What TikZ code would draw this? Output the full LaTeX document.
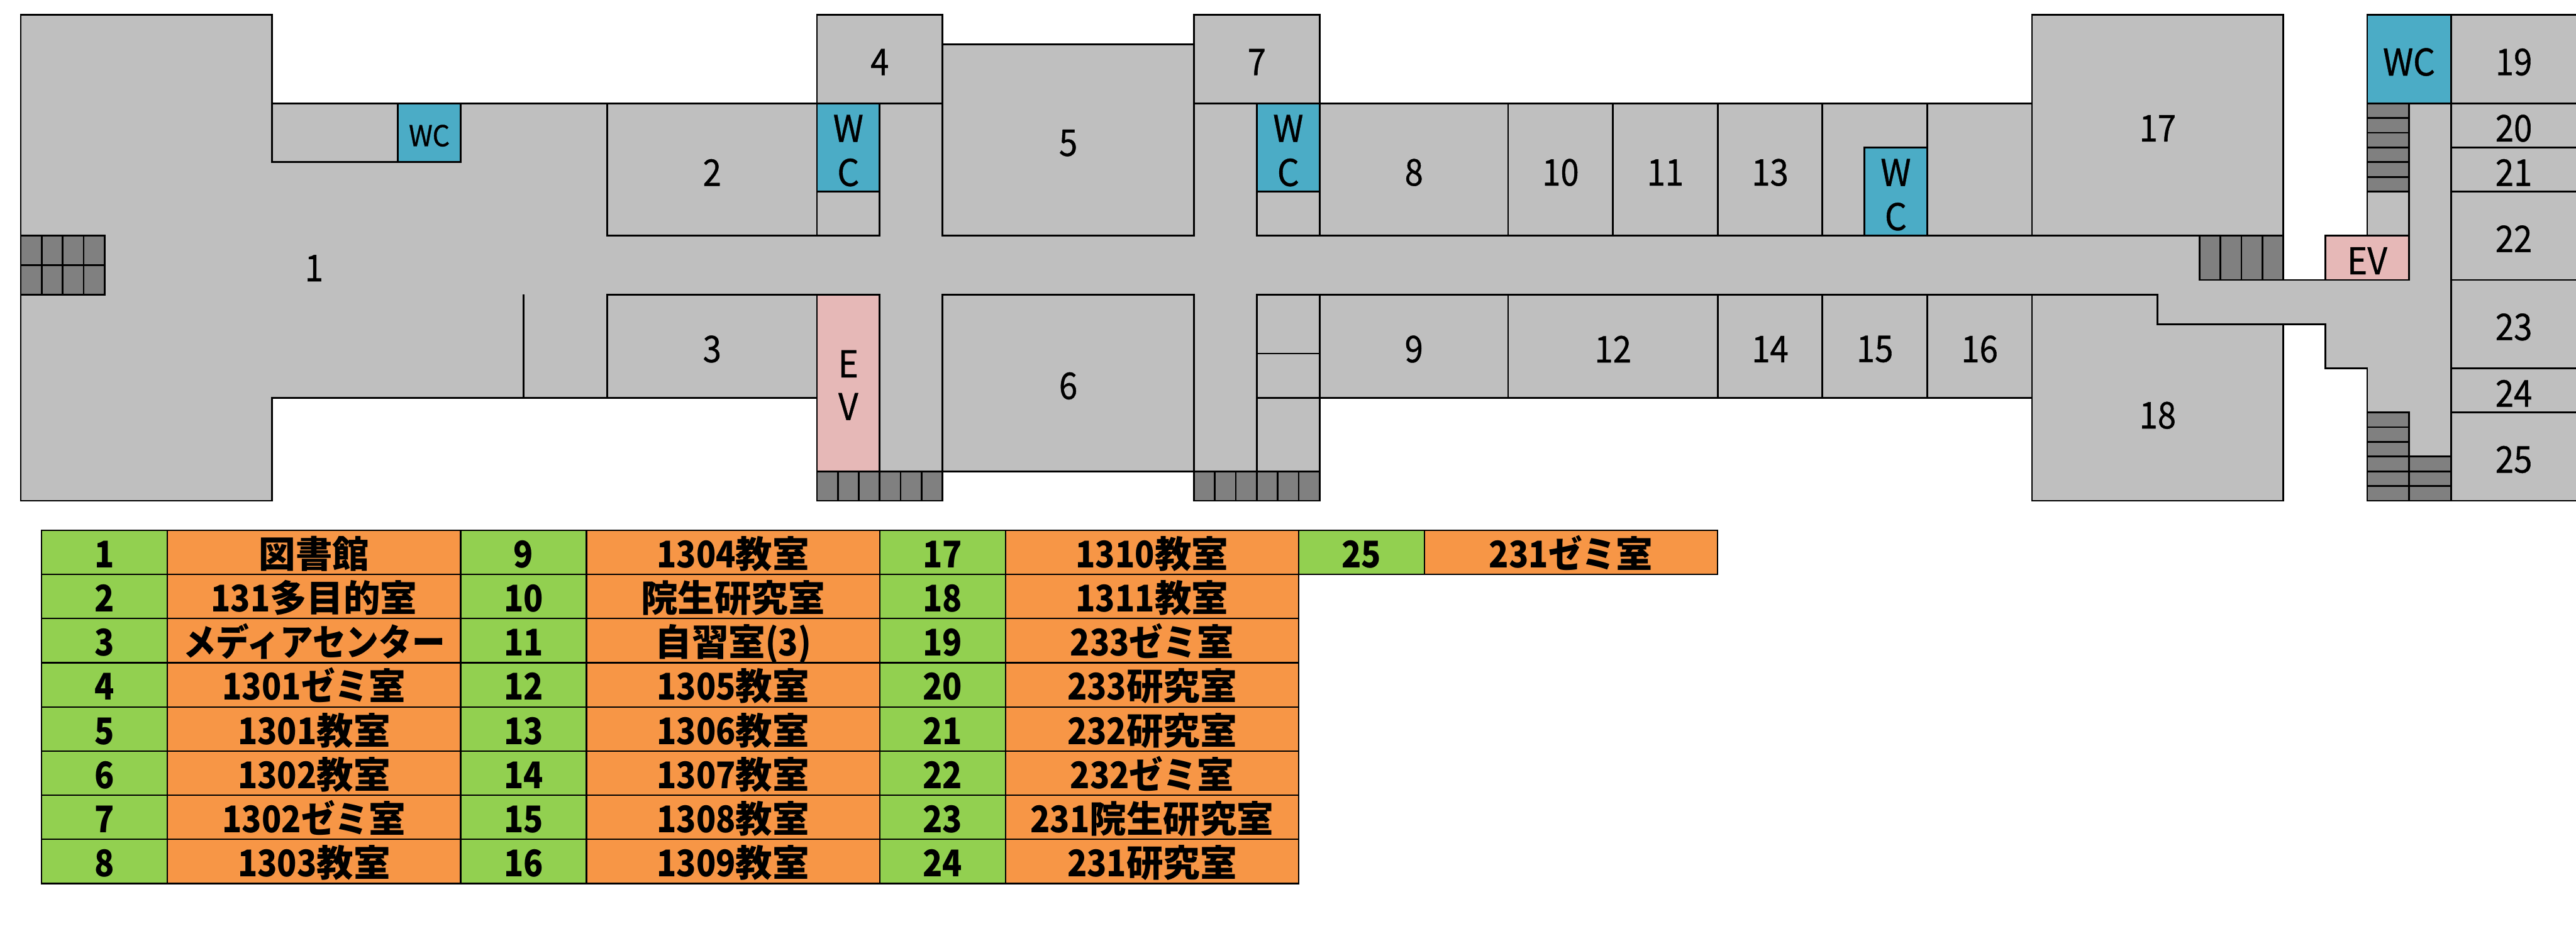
\documentclass[tikz,border=0pt]{standalone}
\usepackage{fontspec}
\usepackage{xcolor}
\usepackage{tikz}
\newfontfamily\jpfont{Noto Sans CJK JP}
\newfontfamily\digfont[FakeStretch=0.88]{Noto Sans CJK JP}
\newfontfamily\lblfont[FakeStretch=0.9,FakeBold=0.7]{Noto Sans CJK JP}
\newfontfamily\letterfont[FakeStretch=0.94,FakeBold=0.7]{Noto Sans CJK JP}
\newcommand{\dg}[1]{{\digfont #1}}
\definecolor{roomgray}{HTML}{BFBFBF}
\definecolor{stairgray}{HTML}{808080}
\definecolor{wcblue}{HTML}{4BACC6}
\definecolor{evpink}{HTML}{E6B8B7}
\definecolor{numgreen}{HTML}{92D050}
\definecolor{nameorange}{HTML}{F79646}

\begin{document}
\begin{tikzpicture}[
    x=0.3702cm, y=-0.26006cm,
    room/.style={draw, line width=0.85pt, fill=roomgray},
    stair/.style={draw, line width=0.85pt, fill=stairgray},
    wc/.style={draw, line width=0.85pt, fill=wcblue},
    ev/.style={draw, line width=0.85pt, fill=evpink},
    partition/.style={draw, line width=0.65pt},
    lbl/.style={font=\lblfont\fontsize{18.5}{22}\selectfont, inner sep=0pt},
    letter/.style={font=\letterfont\fontsize{18.5}{22}\selectfont, inner sep=0pt},
    numcell/.style={draw, line width=0.7pt, fill=numgreen, minimum width=2.2212cm, minimum height=0.78018cm,
        inner sep=0pt, outer sep=0pt, text height=0.54cm, text depth=0cm,
        font=\digfont\bfseries\fontsize{18.5}{22}\selectfont},
    namecell/.style={draw, line width=0.7pt, fill=nameorange, minimum width=5.1828cm, minimum height=0.78018cm,
        inner sep=0pt, outer sep=0pt, text height=0.54cm, text depth=0cm,
        font=\jpfont\bfseries\fontsize{18.5}{22}\selectfont}
]

\useasboundingbox (-0.991,-1.015) rectangle (121.97,63.0);

%% ── Building outline (grid: 1 unit = one sheet cell) ─────────────────
\draw[room] (0,0) -- (12,0) -- (12,6) -- (38,6) -- (38,0) -- (44,0) -- (44,2) -- (56,2)
    -- (56,0) -- (62,0) -- (62,6) -- (96,6) -- (96,0) -- (108,0) -- (108,18) -- (110,18)
    -- (110,15) -- (112,15) -- (112,0) -- (122,0) -- (122,33) -- (112,33) -- (112,24)
    -- (110,24) -- (110,21) -- (108,21) -- (108,33) -- (96,33) -- (96,26) -- (62,26)
    -- (62,33) -- (56,33) -- (56,31) -- (44,31) -- (44,33) -- (38,33) -- (38,26)
    -- (12,26) -- (12,33) -- (0,33) -- cycle;

%% ── Library wing ─────────────────────────────────────────────────────
\draw[room] (12,6) rectangle (18,10);
\draw[wc] (18,6) rectangle (21,10);
\draw[partition] (24,19) -- (24,26);
\draw[stair] (0,15) rectangle (4,19) (1,15) -- (1,19) (2,15) -- (2,19) (3,15) -- (3,19) (0,17) -- (4,17);
\node[lbl] (room1) at (14,17.2) {1};
\node[letter, font=\letterfont\fontsize{14.5}{18}\selectfont] (wclib) at (19.5,8.2) {WC};

%% ── West block ───────────────────────────────────────────────────────
\draw[room] (28,6) rectangle (38,15);
\draw[room] (28,19) rectangle (38,26);
\draw[room] (38,0) rectangle (44,6);
\draw[room] (44,2) rectangle (56,15);
\draw[room] (44,19) rectangle (56,31);
\draw[room] (38,12) rectangle (41,15);
\draw[wc] (38,6) rectangle (41,12);
\draw[ev] (38,19) rectangle (41,31);
\draw[stair] (38,31) rectangle (44,33) (39,31) -- (39,33) (40,31) -- (40,33) (41,31) -- (41,33)
    (42,31) -- (42,33) (43,31) -- (43,33);
\node[lbl] (room2) at (33,10.7) {2};
\node[lbl] (room3) at (33,22.7) {3};
\node[lbl] (room4) at (41,3.2) {4};
\node[lbl] (room5) at (50,8.7) {5};
\node[lbl] (room6) at (50,25.2) {6};
\node[letter] (wcwestw) at (39.5,7.7) {W};
\node[letter] (wcwestc) at (39.5,10.7) {C};
\node[letter] (evweste) at (39.5,23.7) {E};
\node[letter] (evwestv) at (39.5,26.6) {V};

%% ── Middle block ─────────────────────────────────────────────────────
\draw[room] (56,0) rectangle (62,6);
\draw[room] (59,12) rectangle (62,15);
\draw[wc] (59,6) rectangle (62,12);
\draw[room] (59,19) rectangle (62,23);
\draw[room] (59,23) rectangle (62,26);
\draw[room] (59,26) rectangle (62,31);
\draw[stair] (56,31) rectangle (62,33) (57,31) -- (57,33) (58,31) -- (58,33) (59,31) -- (59,33)
    (60,31) -- (60,33) (61,31) -- (61,33);
\draw[room] (62,6) rectangle (71,15);
\draw[room] (71,6) rectangle (76,15);
\draw[room] (76,6) rectangle (81,15);
\draw[room] (81,6) rectangle (86,15);
\draw[room] (86,6) rectangle (91,15);
\draw[room] (91,6) rectangle (96,15);
\draw[wc] (88,9) rectangle (91,15);
\draw[room] (62,19) rectangle (71,26);
\draw[room] (71,19) rectangle (81,26);
\draw[room] (81,19) rectangle (86,26);
\draw[room] (86,19) rectangle (91,26);
\draw[room] (91,19) rectangle (96,26);
\node[lbl] (room7) at (59,3.2) {7};
\node[lbl] (room8) at (66.5,10.7) {8};
\node[lbl] (room9) at (66.5,22.7) {9};
\node[lbl] (room10) at (73.5,10.7) {10};
\node[lbl] (room11) at (78.5,10.7) {11};
\node[lbl] (room12) at (76,22.7) {12};
\node[lbl] (room13) at (83.5,10.7) {13};
\node[lbl] (room14) at (83.5,22.7) {14};
\node[lbl] (room15) at (88.5,22.7) {15};
\node[lbl] (room16) at (93.5,22.7) {16};
\node[letter] (wcmidw) at (60.5,7.7) {W};
\node[letter] (wcmidc) at (60.5,10.7) {C};
\node[letter] (wceastw) at (89.5,10.7) {W};
\node[letter] (wceastc) at (89.5,13.7) {C};

%% ── East block ───────────────────────────────────────────────────────
\draw[room] (96,0) rectangle (108,15);
\draw[room] (96,19) -- (102,19) -- (102,21) -- (108,21) -- (108,33) -- (96,33) -- cycle;
\draw[stair] (104,15) rectangle (108,18) (105,15) -- (105,18) (106,15) -- (106,18) (107,15) -- (107,18);
\node[lbl] (room17) at (102,7.7) {17};
\node[lbl] (room18) at (102,27.2) {18};

%% ── Annex ────────────────────────────────────────────────────────────
\draw[wc] (112,0) rectangle (116,6);
\draw[room] (116,0) rectangle (122,6);
\draw[room] (116,6) rectangle (122,9);
\draw[room] (116,9) rectangle (122,12);
\draw[room] (116,12) rectangle (122,18);
\draw[room] (116,18) rectangle (122,24);
\draw[room] (116,24) rectangle (122,27);
\draw[room] (116,27) rectangle (122,33);
\draw[room] (112,12) rectangle (114,15);
\draw[ev] (110,15) rectangle (114,18);
\draw[stair] (112,6) rectangle (114,12) (112,7) -- (114,7) (112,8) -- (114,8) (112,9) -- (114,9)
    (112,10) -- (114,10) (112,11) -- (114,11);
\draw[stair] (112,27) rectangle (114,33) (112,28) -- (114,28) (112,29) -- (114,29) (112,30) -- (114,30)
    (112,31) -- (114,31) (112,32) -- (114,32);
\draw[stair] (114,30) rectangle (116,33) (114,31) -- (116,31) (114,32) -- (116,32);
\node[letter] (wcannex) at (114,3.2) {WC};
\node[letter] (evannex) at (112,16.7) {EV};
\node[lbl] (room19) at (119,3.2) {19};
\node[lbl] (room20) at (119,7.7) {20};
\node[lbl] (room21) at (119,10.7) {21};
\node[lbl] (room22) at (119,15.2) {22};
\node[lbl] (room23) at (119,21.2) {23};
\node[lbl] (room24) at (119,25.7) {24};
\node[lbl] (room25) at (119,30.2) {25};

%% ── Key table: first column pair ─────────────────────────────────────
\node[numcell] (n1) at (4,36.5) {1};  \node[namecell] (t1) at (14,36.5) {図書館};
\node[numcell] (n2) at (4,39.5) {2};  \node[namecell] (t2) at (14,39.5) {\dg{131}多目的室};
\node[numcell] (n3) at (4,42.5) {3};  \node[namecell] (t3) at (14,42.5) {\scalebox{0.9}[1]{メディアセンター}};
\node[numcell] (n4) at (4,45.5) {4};  \node[namecell] (t4) at (14,45.5) {\dg{1301}\scalebox{0.92}[1]{ゼミ}室};
\node[numcell] (n5) at (4,48.5) {5};  \node[namecell] (t5) at (14,48.5) {\dg{1301}教室};
\node[numcell] (n6) at (4,51.5) {6};  \node[namecell] (t6) at (14,51.5) {\dg{1302}教室};
\node[numcell] (n7) at (4,54.5) {7};  \node[namecell] (t7) at (14,54.5) {\dg{1302}\scalebox{0.92}[1]{ゼミ}室};
\node[numcell] (n8) at (4,57.5) {8};  \node[namecell] (t8) at (14,57.5) {\dg{1303}教室};

%% ── Key table: second column pair ────────────────────────────────────
\node[numcell] (n9) at (24,36.5) {9};    \node[namecell] (t9) at (34,36.5) {\dg{1304}教室};
\node[numcell] (n10) at (24,39.5) {10};  \node[namecell] (t10) at (34,39.5) {院生研究室};
\node[numcell] (n11) at (24,42.5) {11};  \node[namecell] (t11) at (34,42.5) {自習室\dg{(3)}};
\node[numcell] (n12) at (24,45.5) {12};  \node[namecell] (t12) at (34,45.5) {\dg{1305}教室};
\node[numcell] (n13) at (24,48.5) {13};  \node[namecell] (t13) at (34,48.5) {\dg{1306}教室};
\node[numcell] (n14) at (24,51.5) {14};  \node[namecell] (t14) at (34,51.5) {\dg{1307}教室};
\node[numcell] (n15) at (24,54.5) {15};  \node[namecell] (t15) at (34,54.5) {\dg{1308}教室};
\node[numcell] (n16) at (24,57.5) {16};  \node[namecell] (t16) at (34,57.5) {\dg{1309}教室};

%% ── Key table: third column pair ─────────────────────────────────────
\node[numcell] (n17) at (44,36.5) {17};  \node[namecell] (t17) at (54,36.5) {\dg{1310}教室};
\node[numcell] (n18) at (44,39.5) {18};  \node[namecell] (t18) at (54,39.5) {\dg{1311}教室};
\node[numcell] (n19) at (44,42.5) {19};  \node[namecell] (t19) at (54,42.5) {\dg{233}\scalebox{0.92}[1]{ゼミ}室};
\node[numcell] (n20) at (44,45.5) {20};  \node[namecell] (t20) at (54,45.5) {\dg{233}研究室};
\node[numcell] (n21) at (44,48.5) {21};  \node[namecell] (t21) at (54,48.5) {\dg{232}研究室};
\node[numcell] (n22) at (44,51.5) {22};  \node[namecell] (t22) at (54,51.5) {\dg{232}\scalebox{0.92}[1]{ゼミ}室};
\node[numcell] (n23) at (44,54.5) {23};  \node[namecell] (t23) at (54,54.5) {\dg{231}院生研究室};
\node[numcell] (n24) at (44,57.5) {24};  \node[namecell] (t24) at (54,57.5) {\dg{231}研究室};

%% ── Key table: last entry ────────────────────────────────────────────
\node[numcell] (n25) at (64,36.5) {25};  \node[namecell] (t25) at (74,36.5) {\dg{231}\scalebox{0.92}[1]{ゼミ}室};

\end{tikzpicture}
\end{document}
